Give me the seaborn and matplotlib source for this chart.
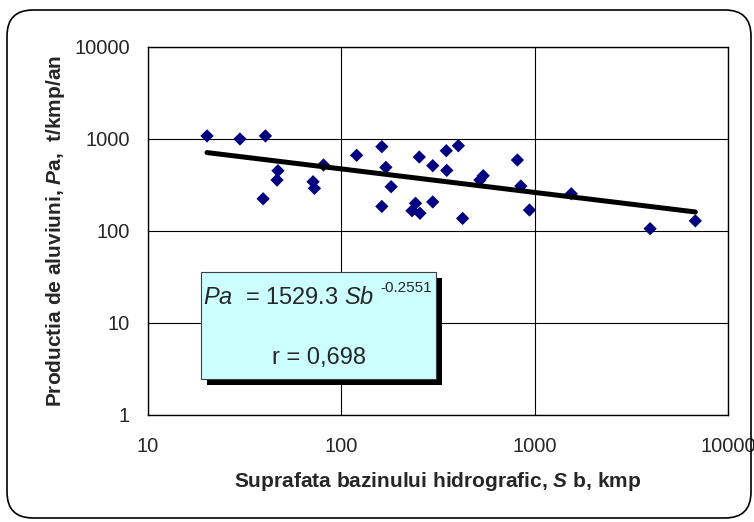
import matplotlib
matplotlib.use("Agg")
import matplotlib.pyplot as plt
import matplotlib.ticker as mticker
from matplotlib.patches import Rectangle, FancyBboxPatch
from matplotlib.transforms import IdentityTransform
import seaborn as sns

# basin area (kmp) and sediment yield (t/kmp/an)
sb = [20.2, 29.9, 40.5, 39.4, 47, 46.5, 71.4, 72.6, 80.9, 120, 162, 170, 181,
      162, 232, 242, 255, 253, 297, 297, 349, 351, 403, 424, 521, 542, 814,
      848, 940, 1546, 3955, 6776]
pa = [1080, 1000, 1080, 224, 452, 358, 343, 291, 522, 665, 825, 492, 303,
      185, 166, 200, 156, 637, 513, 207, 746, 456, 845, 137, 358, 399, 591,
      308, 169, 254, 106, 129]

# power trendline end points
trend_x = [20.2, 6776]
trend_y = [712, 161]

x_ticks = [10, 100, 1000, 10000]
y_ticks = [1, 10, 100, 1000, 10000]

sns.set_style("white")
plt.rcParams["font.family"] = ["Liberation Sans", "DejaVu Sans"]
plt.rcParams["mathtext.fontset"] = "custom"
plt.rcParams["mathtext.rm"] = "Liberation Sans"
plt.rcParams["mathtext.it"] = "Liberation Sans:italic"
plt.rcParams["mathtext.bf"] = "Liberation Sans:bold"
plt.rcParams["mathtext.bfit"] = "Liberation Sans:italic:bold"

fig = plt.figure(figsize=(7.54, 5.22), dpi=100)
ax = fig.add_axes([148 / 754, 1 - 415 / 522, 580 / 754, 368 / 522])

sns.scatterplot(x=sb, y=pa, marker="D", color="#000080", s=46,
                edgecolor="none", ax=ax, zorder=3)
sns.lineplot(x=trend_x, y=trend_y, color="black", lw=3.6, ax=ax, zorder=4)

ax.set_xscale("log")
ax.set_yscale("log")
ax.set_xlim(10, 10000)
ax.set_ylim(1, 10000)
ax.set_xticks(x_ticks)
ax.set_yticks(y_ticks)
ax.xaxis.set_major_formatter(mticker.FuncFormatter(lambda v, p: "%d" % v))
ax.yaxis.set_major_formatter(mticker.FuncFormatter(lambda v, p: "%d" % v))
ax.xaxis.set_minor_locator(mticker.NullLocator())
ax.yaxis.set_minor_locator(mticker.NullLocator())
ax.tick_params(axis="both", which="major", direction="out", length=5,
               width=0.8, color="black", labelsize=14.5)
ax.tick_params(axis="x", pad=11)
ax.tick_params(axis="y", pad=8)
ax.grid(True, color="black", lw=0.8)
for s in ax.spines.values():
    s.set_color("black")
    s.set_linewidth(1.0)

ax.set_xlabel(r"Suprafata bazinului hidrografic, $\mathbfit{S}$ b, kmp",
              fontsize=15, fontweight="bold", labelpad=10)
ax.set_ylabel(r"Productia de aluviuni, $\mathbfit{P}$a,  t/kmp/an",
              fontsize=15, fontweight="bold", labelpad=5)

# equation box with shadow
fig.add_artist(Rectangle((207 / 754, 1 - 385 / 522), 235 / 754, 107 / 522,
                         transform=fig.transFigure, facecolor="black",
                         edgecolor="none", zorder=5))
fig.add_artist(Rectangle((201 / 754, 1 - 379 / 522), 235 / 754, 107 / 522,
                         transform=fig.transFigure, facecolor="#CCFFFF",
                         edgecolor="#404040", lw=0.8, zorder=6))
fig.text(203 / 754, 1 - 298 / 522, r"$\mathit{Pa}$  = 1529.3 $\mathit{Sb}$",
         fontsize=17, ha="left", va="center", zorder=7)
fig.text(380 / 754, 1 - 288 / 522, "-0.2551", fontsize=11,
         ha="left", va="center", zorder=7)
fig.text(319 / 754, 1 - 358 / 522, "r = 0,698", fontsize=17,
         ha="center", va="center", zorder=7)

# rounded outer frame
fig.add_artist(FancyBboxPatch((7, 4), 744, 508,
                              boxstyle="round,pad=0,rounding_size=26",
                              transform=IdentityTransform(), facecolor="none",
                              edgecolor="black", lw=1.2, zorder=1))

fig.savefig("out.png", dpi=100)
